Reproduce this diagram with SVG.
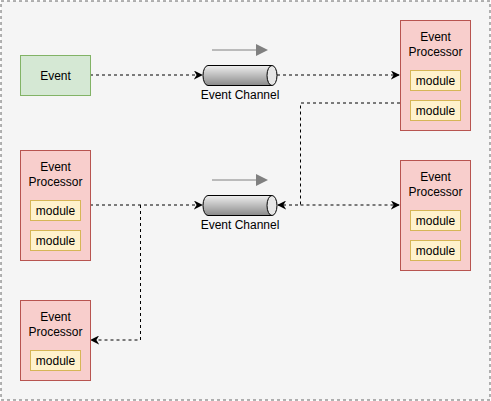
<svg xmlns="http://www.w3.org/2000/svg" width="491" height="401" viewBox="0 0 491 401">
<style>
.proc{fill:#f8cecc;stroke:#b85450;stroke-width:1}
.mod{fill:#fff2cc;stroke:#d6b656;stroke-width:1}
.t{font-family:"Liberation Sans",Arial,sans-serif;font-size:12px;fill:#000;text-anchor:middle}
.edge{fill:none;stroke:#000;stroke-width:1;stroke-dasharray:3 3}
.cyl{fill:url(#g);stroke:#000;stroke-width:1}
.cap{fill:#e6e6e6;stroke:#000;stroke-width:1}
</style>
<defs>
<linearGradient id="g" x1="0" y1="0" x2="0" y2="1">
<stop offset="0" stop-color="#eeeeee"/>
<stop offset="1" stop-color="#8a8a8a"/>
</linearGradient>
<marker id="a" viewBox="0 0 10 10" refX="9" refY="5" markerWidth="9" markerHeight="9" markerUnits="userSpaceOnUse" orient="auto">
<path d="M0,0 L10,5 L0,10 L3,5 Z" fill="#000"/>
</marker>
<marker id="as" viewBox="0 0 10 10" refX="1" refY="5" markerWidth="9" markerHeight="9" markerUnits="userSpaceOnUse" orient="auto">
<path d="M10,0 L0,5 L10,10 L7,5 Z" fill="#000"/>
</marker>
</defs>
<rect x="1" y="1" width="489" height="399" fill="#f5f5f5" stroke="#666" stroke-dasharray="3 3"/>

<g id="connectors">
<path class="edge" d="M90,75 L202,75" marker-end="url(#a)"/>
<path class="edge" d="M277,75 L399,75" marker-end="url(#a)"/>
<path class="edge" d="M400,103 L300.5,103 L300.5,205 L278,205" marker-end="url(#a)"/>
<path class="edge" d="M300.5,205 L399,205" marker-end="url(#a)"/>
<path class="edge" d="M90,205 L202,205" marker-end="url(#a)"/>
<path class="edge" d="M140.5,205 L140.5,340 L91,340" marker-end="url(#a)"/>
</g>

<g id="flow1">
<line x1="212" y1="50" x2="257" y2="50" stroke="#808080" stroke-width="1"/>
<path d="M256,44 L268,50 L256,56 Z" fill="#808080"/>
</g>
<g id="flow2">
<line x1="212" y1="180" x2="257" y2="180" stroke="#808080" stroke-width="1"/>
<path d="M256,174 L268,180 L256,186 Z" fill="#808080"/>
</g>

<g id="event">
<rect x="20.5" y="55.5" width="70" height="40" fill="#d5e8d4" stroke="#82b366"/>
<text class="t" x="55.5" y="79.5">Event</text>
</g>

<g id="channel1">
<path class="cyl" d="M272,65.5 L208,65.5 A5,10 0 0 0 208,85.5 L272,85.5"/>
<ellipse class="cap" cx="272" cy="75.5" rx="5" ry="10"/>
<text class="t" x="240" y="99">Event Channel</text>
</g>

<g id="channel2">
<path class="cyl" d="M272,195.5 L208,195.5 A5,10 0 0 0 208,215.5 L272,215.5"/>
<ellipse class="cap" cx="272" cy="205.5" rx="5" ry="10"/>
<text class="t" x="240" y="229">Event Channel</text>
</g>

<g id="proc-top-right">
<rect class="proc" x="400.5" y="20.5" width="70" height="110"/>
<text class="t" x="435.5" y="41">Event</text>
<text class="t" x="435.5" y="56">Processor</text>
<rect class="mod" x="410.5" y="70.5" width="50" height="20"/>
<text class="t" x="435.5" y="84.5">module</text>
<rect class="mod" x="410.5" y="100.5" width="50" height="20"/>
<text class="t" x="435.5" y="114.5">module</text>
</g>

<g id="proc-mid-left">
<rect class="proc" x="20.5" y="150.5" width="70" height="110"/>
<text class="t" x="55.5" y="171">Event</text>
<text class="t" x="55.5" y="186">Processor</text>
<rect class="mod" x="30.5" y="200.5" width="50" height="20"/>
<text class="t" x="55.5" y="214.5">module</text>
<rect class="mod" x="30.5" y="230.5" width="50" height="20"/>
<text class="t" x="55.5" y="244.5">module</text>
</g>

<g id="proc-mid-right">
<rect class="proc" x="400.5" y="160.5" width="70" height="110"/>
<text class="t" x="435.5" y="181">Event</text>
<text class="t" x="435.5" y="196">Processor</text>
<rect class="mod" x="410.5" y="210.5" width="50" height="20"/>
<text class="t" x="435.5" y="224.5">module</text>
<rect class="mod" x="410.5" y="240.5" width="50" height="20"/>
<text class="t" x="435.5" y="254.5">module</text>
</g>

<g id="proc-bottom-left">
<rect class="proc" x="20.5" y="300.5" width="70" height="80"/>
<text class="t" x="55.5" y="321">Event</text>
<text class="t" x="55.5" y="336">Processor</text>
<rect class="mod" x="30.5" y="350.5" width="50" height="20"/>
<text class="t" x="55.5" y="364.5">module</text>
</g>
</svg>
